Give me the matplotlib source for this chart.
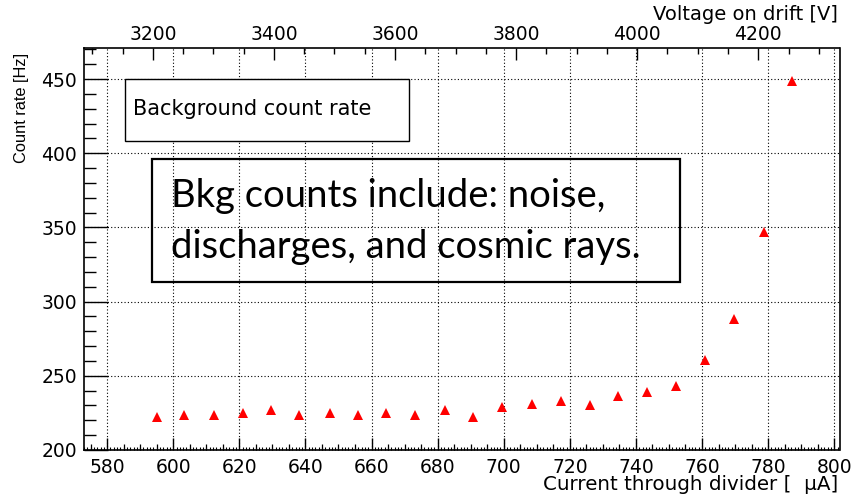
import numpy as np
import matplotlib
matplotlib.use("Agg")
import matplotlib.pyplot as plt
from matplotlib.patches import Rectangle
from matplotlib.ticker import MultipleLocator, FixedLocator, NullFormatter

# current through the divider [uA] and background count rate [Hz]
current_uA = [595.2, 603.4, 612.2, 621.0, 629.7, 638.2, 647.3, 655.9, 664.5, 673.1,
              682.2, 690.8, 699.6, 708.7, 717.4, 726.0, 734.6, 743.5, 752.1, 760.9,
              769.7, 778.8, 787.1]
rate_hz = [222.0, 223.6, 223.6, 225.2, 227.2, 223.6, 225.2, 223.6, 225.2, 223.6,
           227.0, 222.0, 229.2, 230.8, 232.8, 230.1, 236.6, 239.1, 242.9, 260.6,
           288.1, 347.1, 448.7]
volt_ticks = [3200, 3400, 3600, 3800, 4000, 4200]

# drift voltage as a linear function of divider current
V_AT_580 = 3124.5
V_PER_UA = 5.459

def to_volt(i):
    return V_AT_580 + V_PER_UA * (np.asarray(i) - 580.0)

def to_current(v):
    return 580.0 + (np.asarray(v) - V_AT_580) / V_PER_UA

W, H = 851, 496
plt.rcParams['font.family'] = ['DejaVu Sans']
fig = plt.figure(figsize=(W / 100, H / 100), dpi=100)
ax = fig.add_axes([84 / W, 1 - 450 / H, (839.5 - 84) / W, (450 - 47.7) / H])

ax.plot(current_uA, rate_hz, ls='none', marker='^', ms=6.7, mew=0, color='#ff0000', zorder=5)

ax.set_xlim(573.0, 801.6)
ax.set_ylim(200, 471.1)

for s in ax.spines.values():
    s.set_linewidth(1.2)

ax.xaxis.set_major_locator(MultipleLocator(20))
ax.xaxis.set_minor_locator(MultipleLocator(1))
ax.yaxis.set_major_locator(MultipleLocator(50))
ax.yaxis.set_minor_locator(MultipleLocator(10))
ax.tick_params(axis='x', which='major', direction='in', length=8.6, width=1.0,
               labelsize=13.5, pad=5.5, top=False)
ax.tick_params(axis='x', which='minor', direction='in', length=2.2, width=0.8, top=False)
ax.tick_params(axis='y', which='major', direction='in', length=17, width=1.0,
               labelsize=13.5, pad=5, right=False)
ax.tick_params(axis='y', which='minor', direction='in', length=8.6, width=1.0, right=False)

# medium ticks every 5 uA on the bottom axis
mid = ax.secondary_xaxis('bottom')
mid.xaxis.set_major_locator(FixedLocator([v for v in range(575, 805, 5) if v % 20]))
mid.xaxis.set_major_formatter(NullFormatter())
mid.tick_params(direction='in', length=4.3, width=0.9)
mid.spines['bottom'].set_visible(False)

ax.grid(True, which='major', ls=(0, (1, 2)), lw=0.8, color='black')

# top axis in drift voltage
top = ax.secondary_xaxis('top', functions=(to_volt, to_current))
top.xaxis.set_major_locator(FixedLocator(volt_ticks))
top.xaxis.set_minor_locator(FixedLocator(list(range(3100, 4350, 50))))
top.tick_params(which='major', direction='in', length=8.6, width=1.0, labelsize=13.5, pad=2.5)
top.tick_params(which='minor', direction='in', length=4.3, width=1.0)
top.spines['top'].set_visible(False)

fig.text(838 / W, 1 - 20 / H, 'Voltage on drift [V]', ha='right', va='baseline', fontsize=14)
fig.text(838 / W, 1 - 490 / H, 'Current through divider [  \u03bcA]', ha='right', va='baseline',
         fontsize=14.3)
fig.text(22 / W, 1 - 53 / H, 'Count rate [Hz]', rotation=90, ha='center', va='top',
         fontsize=11.8, family='Liberation Sans')

# legend-style title box
fig.patches.append(Rectangle((125 / W, 1 - 141 / H), 284 / W, 62 / H, transform=fig.transFigure,
                             facecolor='white', edgecolor='black', lw=1.0, zorder=3))
fig.text(133 / W, 1 - 115 / H, 'Background count rate', ha='left', va='baseline',
         fontsize=15, zorder=4)

# annotation box
fig.patches.append(Rectangle((152 / W, 1 - 281.7 / H), 528 / W, 122.4 / H, transform=fig.transFigure,
                             facecolor='none', edgecolor='black', lw=1.6, zorder=3))
fig.text(171 / W, 1 - 207 / H, 'Bkg counts include: noise,', ha='left', va='baseline',
         fontsize=27.5, family='Lato', zorder=4)
fig.text(171 / W, 1 - 258 / H, 'discharges, and cosmic rays.', ha='left', va='baseline',
         fontsize=27.5, family='Lato', zorder=4)

fig.savefig('out.png', dpi=100)
